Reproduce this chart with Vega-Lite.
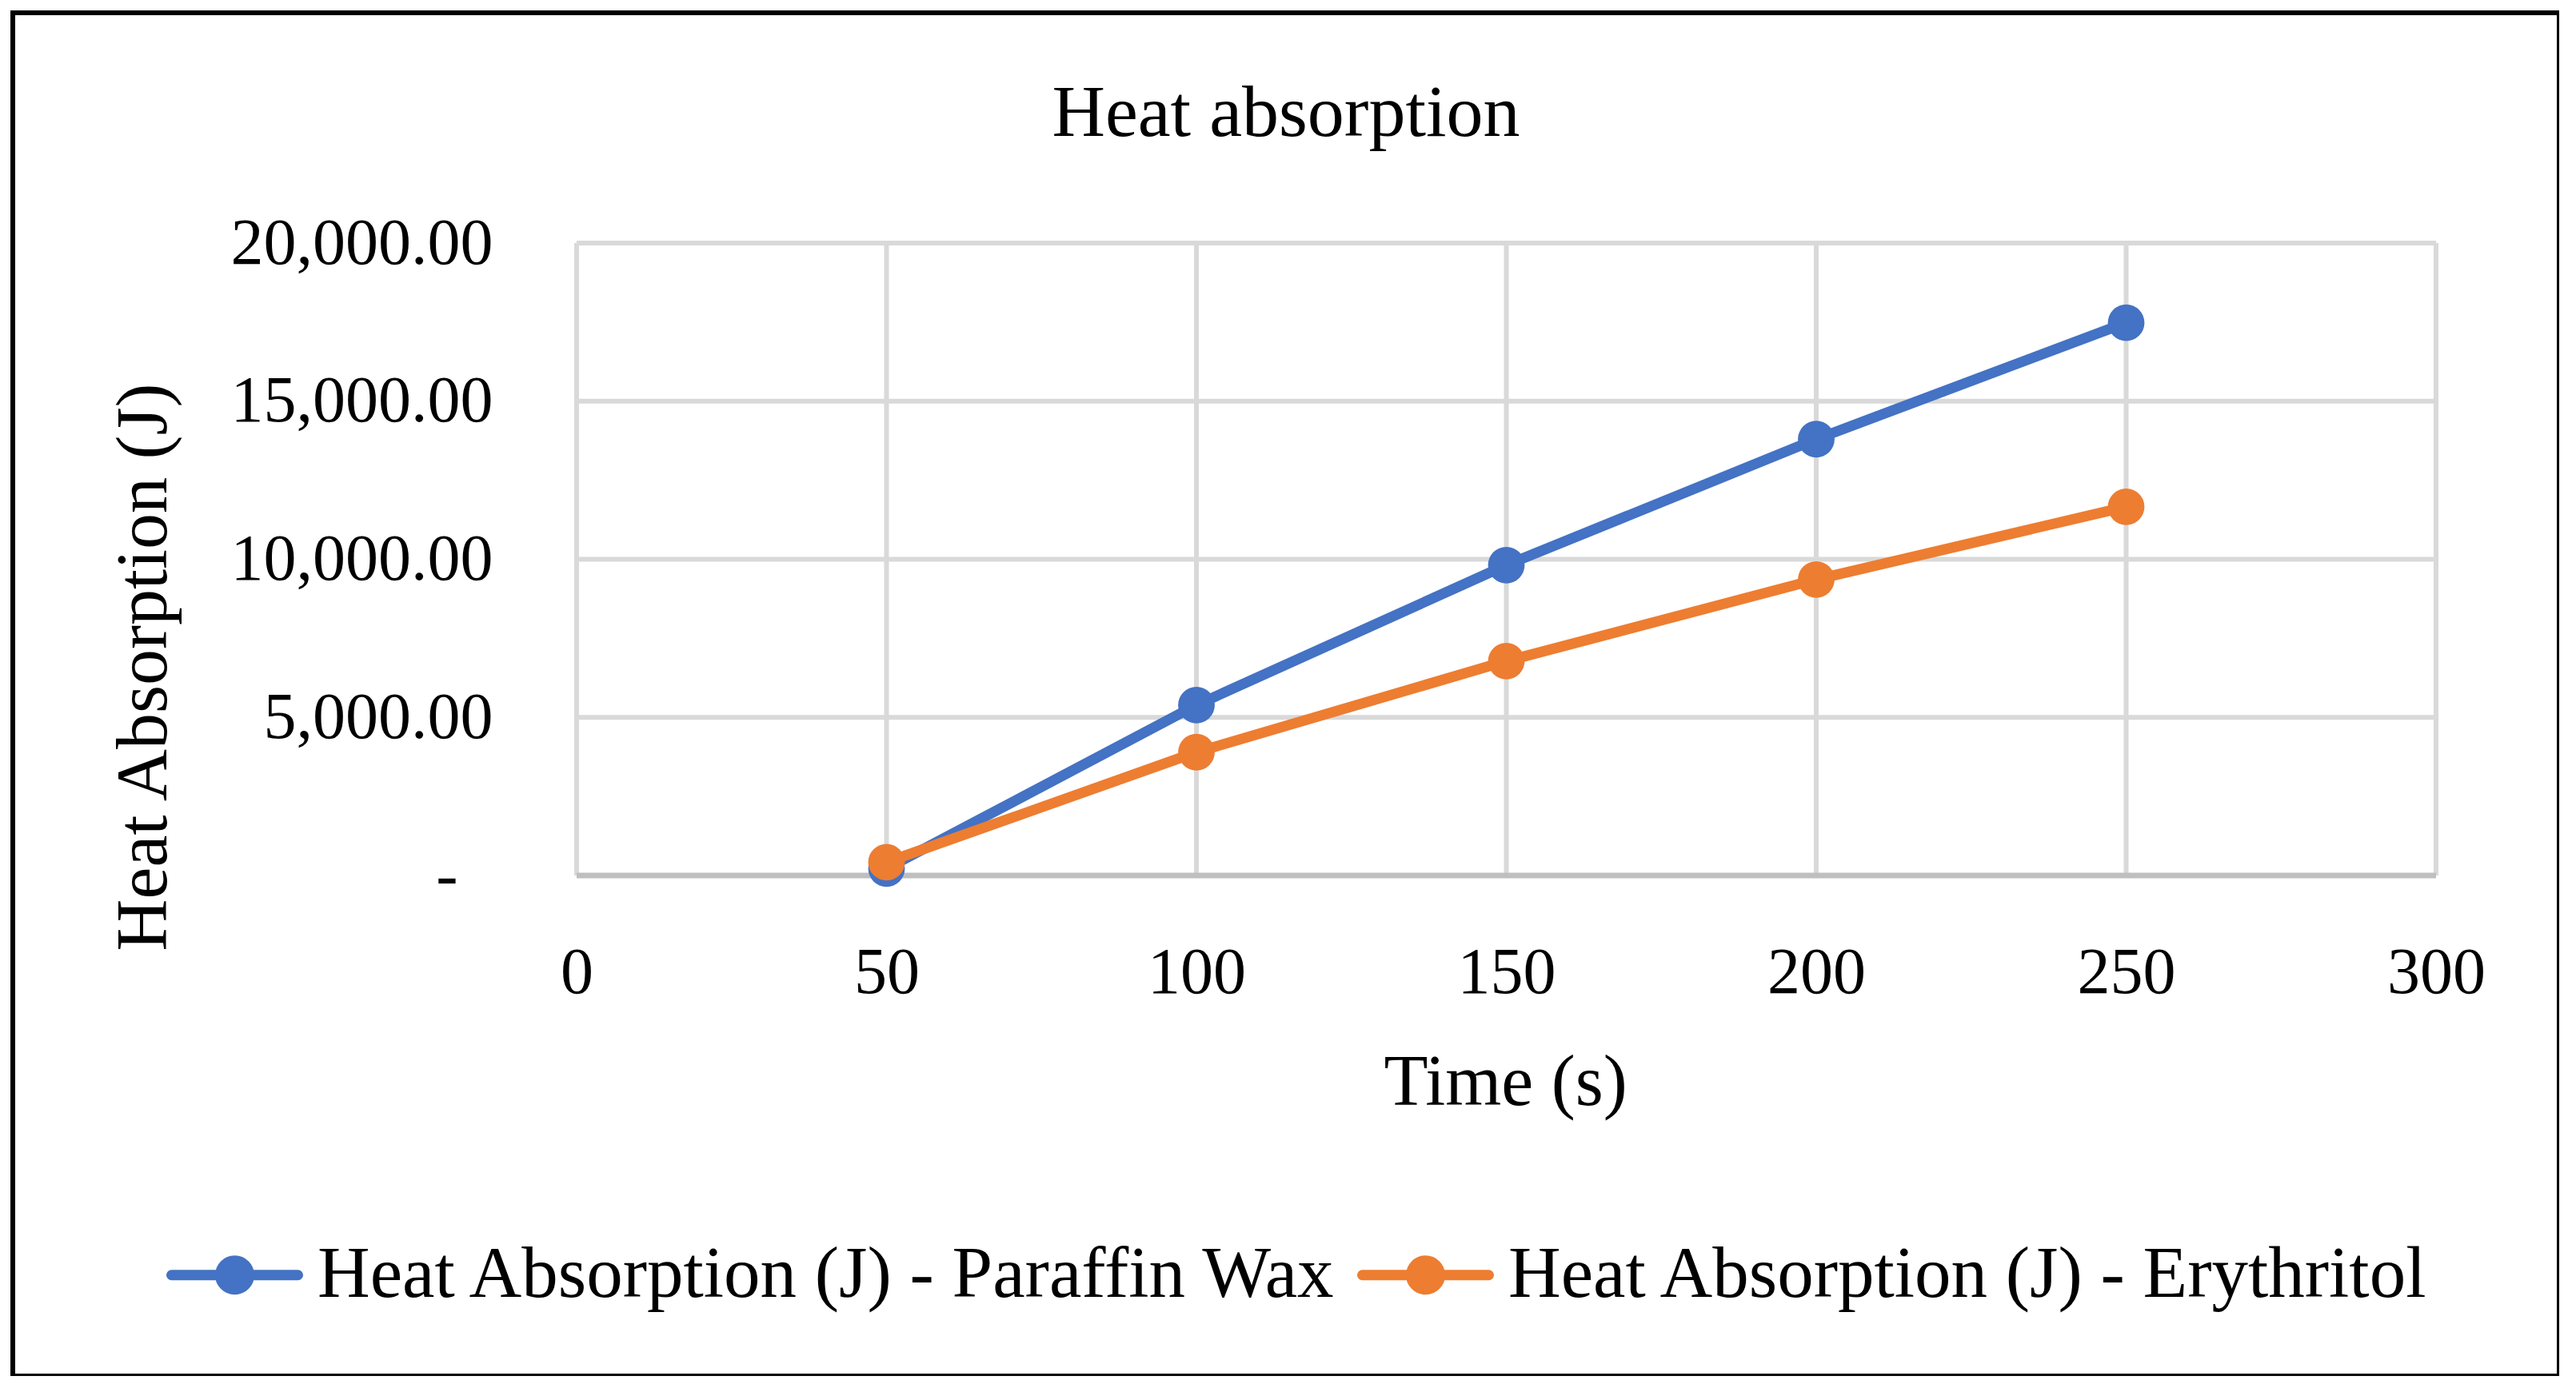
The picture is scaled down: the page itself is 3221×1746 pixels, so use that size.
{
  "$schema": "https://vega.github.io/schema/vega-lite/v6.json",
  "description": "Heat absorption of paraffin wax and erythritol over time",
  "width": 3184,
  "height": 1705,
  "autosize": {"type": "none"},
  "padding": {"left": 16, "top": 16, "right": 0, "bottom": 0},
  "background": "white",
  "title": {
    "text": "Heat absorption",
    "anchor": "middle",
    "frame": "group",
    "orient": "top",
    "baseline": "alphabetic",
    "offset": -152,
    "dy": 94,
    "font": "Liberation Serif",
    "fontSize": 92,
    "fontWeight": "normal",
    "color": "black"
  },
  "data": {
    "values": [
      {"Time": 50, "Heat": 220, "Series": "Heat Absorption (J) - Paraffin Wax"},
      {"Time": 100, "Heat": 5390, "Series": "Heat Absorption (J) - Paraffin Wax"},
      {"Time": 150, "Heat": 9815, "Series": "Heat Absorption (J) - Paraffin Wax"},
      {"Time": 200, "Heat": 13800, "Series": "Heat Absorption (J) - Paraffin Wax"},
      {"Time": 250, "Heat": 17480, "Series": "Heat Absorption (J) - Paraffin Wax"},
      {"Time": 50, "Heat": 420, "Series": "Heat Absorption (J) - Erythritol"},
      {"Time": 100, "Heat": 3900, "Series": "Heat Absorption (J) - Erythritol"},
      {"Time": 150, "Heat": 6780, "Series": "Heat Absorption (J) - Erythritol"},
      {"Time": 200, "Heat": 9360, "Series": "Heat Absorption (J) - Erythritol"},
      {"Time": 250, "Heat": 11660, "Series": "Heat Absorption (J) - Erythritol"}
    ]
  },
  "layer": [
    {
      "data": {"values": [{"t": 0}, {"t": 50}, {"t": 100}, {"t": 150}, {"t": 200}, {"t": 250}, {"t": 300}]},
      "mark": {"type": "rule", "color": "#D9D9D9", "strokeWidth": 6},
      "encoding": {
        "x": {"field": "t", "type": "quantitative", "title": "Time (s)",
              "scale": {"domain": [-90.97, 319.87], "nice": false, "zero": false}},
        "y": {"datum": 0, "type": "quantitative", "title": "Heat Absorption (J)",
              "scale": {"domain": [-15828, 27282], "nice": false, "zero": false}},
        "y2": {"datum": 20000}
      }
    },
    {
      "data": {"values": [{"v": 5000}, {"v": 10000}, {"v": 15000}, {"v": 20000}]},
      "mark": {"type": "rule", "color": "#D9D9D9", "strokeWidth": 6},
      "encoding": {
        "y": {"field": "v", "type": "quantitative", "title": "Heat Absorption (J)",
              "scale": {"domain": [-15828, 27282], "nice": false, "zero": false}},
        "x": {"datum": 0, "type": "quantitative", "title": "Time (s)",
              "scale": {"domain": [-90.97, 319.87], "nice": false, "zero": false}},
        "x2": {"datum": 300}
      }
    },
    {
      "data": {"values": [{"v": 0}]},
      "mark": {"type": "rule", "color": "#BFBFBF", "strokeWidth": 7},
      "encoding": {
        "y": {"field": "v", "type": "quantitative", "title": "Heat Absorption (J)",
              "scale": {"domain": [-15828, 27282], "nice": false, "zero": false}},
        "x": {"datum": 0, "type": "quantitative", "title": "Time (s)",
              "scale": {"domain": [-90.97, 319.87], "nice": false, "zero": false}},
        "x2": {"datum": 300}
      }
    },
    {
      "mark": {"type": "line", "strokeWidth": 13},
      "encoding": {
        "x": {
          "field": "Time",
          "type": "quantitative",
          "title": "Time (s)",
          "scale": {"domain": [-90.97, 319.87], "nice": false, "zero": false},
          "axis": {
            "orient": "bottom",
            "offset": -626,
            "values": [0, 50, 100, 150, 200, 250, 300],
            "grid": false,
            "domain": false,
            "ticks": false,
            "labelFont": "Liberation Serif",
            "labelFontSize": 82,
            "labelColor": "black",
            "labelPadding": 81,
            "labelFlush": false,
            "labelOverlap": false,
            "title": "Time (s)",
            "titleFont": "Liberation Serif",
            "titleFontSize": 90,
            "titleFontWeight": "normal",
            "titleColor": "black",
            "titleX": 1866,
            "titleY": 286,
            "titleAlign": "center",
            "titleBaseline": "alphabetic"
          }
        },
        "y": {
          "field": "Heat",
          "type": "quantitative",
          "title": "Heat Absorption (J)",
          "scale": {"domain": [-15828, 27282], "nice": false, "zero": false},
          "axis": {
            "orient": "left",
            "offset": -705,
            "values": [0, 5000, 10000, 15000, 20000],
            "labelExpr": "datum.value == 0 ? '-' : format(datum.value, ',.2f')",
            "grid": false,
            "domain": false,
            "ticks": false,
            "labelFont": "Liberation Serif",
            "labelFontSize": 82,
            "labelColor": "black",
            "labelPadding": {"condition": {"test": "datum.value == 0", "value": 149}, "value": 105},
            "labelAlign": "right",
            "labelBaseline": "middle",
            "labelLimit": 1000,
            "labelFlush": false,
            "labelOverlap": false,
            "title": "Heat Absorption (J)",
            "titleFont": "Liberation Serif",
            "titleFontSize": 90,
            "titleFontWeight": "normal",
            "titleColor": "black",
            "titleAngle": 270,
            "titleX": -514,
            "titleY": 818,
            "titleAlign": "center",
            "titleBaseline": "alphabetic"
          }
        },
        "color": {
          "field": "Series",
          "type": "nominal",
          "scale": {
            "domain": ["Heat Absorption (J) - Paraffin Wax", "Heat Absorption (J) - Erythritol"],
            "range": ["#4472C4", "#ED7D31"]
          },
          "legend": {
            "orient": "none",
            "legendX": 186,
            "legendY": 1487,
            "direction": "horizontal",
            "columns": 2,
            "title": null,
            "padding": 0,
            "columnPadding": 2,
            "labelOffset": 12,
            "labelFont": "Liberation Serif",
            "labelFontSize": 91,
            "labelColor": "black",
            "labelLimit": 3000,
            "symbolType": "M-0.93,0L0.93,0M-0.212,0A0.212,0.212,0,1,0,0.212,0A0.212,0.212,0,1,0,-0.212,0Z",
            "symbolSize": 28900,
            "symbolStrokeWidth": 13,
            "encode": {
              "symbols": {
                "update": {
                  "stroke": {"scale": "color", "field": "value"},
                  "fill": {"scale": "color", "field": "value"},
                  "strokeWidth": {"value": 13},
                  "strokeCap": {"value": "round"},
                  "opacity": {"value": 1}
                }
              }
            }
          }
        }
      }
    },
    {
      "mark": {"type": "point", "filled": true, "size": 2100, "opacity": 1, "shape": "circle"},
      "encoding": {
        "x": {"field": "Time", "type": "quantitative", "title": "Time (s)",
              "scale": {"domain": [-90.97, 319.87], "nice": false, "zero": false}},
        "y": {"field": "Heat", "type": "quantitative", "title": "Heat Absorption (J)",
              "scale": {"domain": [-15828, 27282], "nice": false, "zero": false}},
        "color": {"field": "Series", "type": "nominal"}
      }
    }
  ],
  "config": {
    "font": "Liberation Serif",
    "view": {"stroke": "black", "strokeWidth": 6}
  }
}
